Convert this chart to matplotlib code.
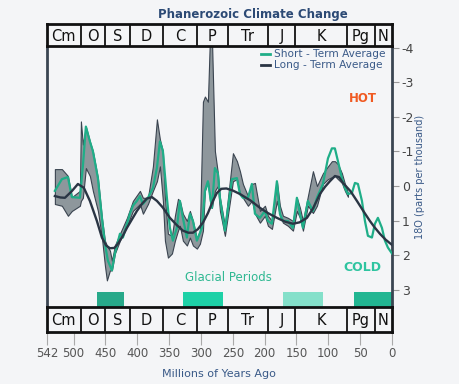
import matplotlib.pyplot as plt
from matplotlib.lines import Line2D

# geologic periods, boundaries in millions of years ago (as drawn)
period_names = ["Cm", "O", "S", "D", "C", "P", "Tr", "J", "K", "Pg", "N"]
period_edges = [542, 489, 451, 412, 360, 306, 258, 195, 152, 71, 27, 0]

# glacial periods (start, end) in Ma
glacial_start = [463, 328, 171, 60]
glacial_end = [421, 266, 108, 0]
glacial_colors = ["#27a98a", "#1ed1a7", "#84e0ca", "#22b692"]

# short-term average (green)
short_age = [529.5, 518.5, 509.0, 502.8, 490.2, 485.5, 480.8, 474.5, 469.8, 461.9,
             455.6, 450.9, 446.2, 439.9, 435.2, 427.3, 422.6, 411.6, 406.9, 400.6,
             395.9, 391.2, 383.3, 375.5, 369.2, 364.5, 359.8, 353.5, 348.8, 344.1,
             337.8, 333.1, 328.4, 322.1, 317.4, 312.6, 306.4, 298.5, 293.8, 289.1,
             282.8, 278.1, 273.4, 270.2, 262.4, 251.4, 243.5, 238.8, 234.1, 226.2,
             220.0, 215.2, 207.4, 199.5, 194.8, 188.5, 180.7, 176.0, 171.2, 163.4,
             155.5, 149.3, 144.5, 139.8, 132.0, 124.1, 117.8, 108.4, 100.5, 94.3,
             89.6, 84.8, 78.6, 73.8, 69.1, 62.8, 58.1, 53.4, 47.1, 42.4,
             37.7, 31.4, 26.7, 22.0, 15.7, 11.0, 6.3, 0.0]
short_val = [0.14, -0.20, -0.26, 0.32, 0.34, -0.57, -1.72, -1.29, -1.01, -0.23,
             0.92, 1.67, 2.16, 2.44, 1.95, 1.38, 1.49, 0.80, 0.57, 0.43,
             0.29, 0.52, 0.34, 0.06, -0.52, -1.29, -1.01, 0.34, 1.21, 1.58,
             1.21, 0.43, 0.92, 1.49, 0.80, 1.01, 1.58, 1.21, 0.14, -0.14,
             0.63, -0.52, -0.37, 0.34, 1.29, -0.20, -0.23, 0.23, 0.34, 0.34,
             -0.06, 0.80, 0.92, 0.72, 1.01, 1.09, -0.14, 0.80, 1.01, 1.01,
             1.21, 0.34, 0.80, 1.21, 0.43, 0.72, 0.34, -0.06, -0.80, -1.09,
             -1.09, -0.72, -0.23, 0.06, 0.23, 0.20, -0.09, -0.06, 0.43, 1.01,
             1.44, 1.49, 1.09, 0.92, 1.21, 1.58, 1.78, 1.95]

# grey spread band
band_age = [529.5, 518.5, 509.0, 502.8, 490.2, 488.6, 485.5, 480.8, 474.5, 469.8,
            461.9, 455.6, 450.9, 447.8, 443.0, 439.9, 435.2, 427.3, 416.3, 406.9,
            395.9, 391.2, 383.3, 375.5, 369.2, 364.5, 359.8, 356.6, 351.9, 345.6,
            340.9, 336.1, 333.1, 328.4, 322.1, 317.4, 312.6, 306.4, 301.7, 296.9,
            293.8, 289.1, 285.9, 282.8, 278.1, 273.4, 270.2, 262.4, 249.8, 243.5,
            238.8, 234.1, 226.2, 220.0, 215.2, 207.4, 199.5, 194.8, 188.5, 180.7,
            176.0, 171.2, 163.4, 155.5, 149.3, 144.5, 139.8, 132.0, 124.1, 117.8,
            108.4, 100.5, 94.3, 89.6, 84.8, 78.6, 73.8, 69.1]
band_top = [-0.49, -0.49, -0.29, 0.32, 0.14, -1.87, -1.20, -1.72, -1.29, -1.01,
            -0.23, 0.92, 1.58, 1.72, 1.87, 2.16, 1.72, 1.38, 0.92, 0.43,
            0.14, 0.34, 0.34, -0.57, -1.93, -1.35, -1.01, 0.34, 1.38, 1.44,
            0.86, 0.37, 0.43, 0.80, 1.01, 0.72, 1.01, 1.52, 1.29, -2.44,
            -2.59, -2.44, -4.3, -4.3, -1.01, -0.37, 0.34, 1.15, -0.95, -0.72,
            -0.43, -0.06, 0.29, -0.06, -0.09, 0.72, 0.57, 0.86, 1.01, -0.14,
            0.57, 0.86, 0.92, 1.01, 0.34, 0.63, 1.01, 0.29, -0.43, 0.00,
            -0.37, -0.57, -0.72, -0.72, -0.63, -0.37, -0.06, 0.20]
band_bot = [0.52, 0.57, 0.86, 0.72, 0.57, 0.43, 0.34, -0.52, -0.29, 0.14,
            0.72, 1.49, 2.30, 2.73, 2.44, 2.44, 1.95, 1.58, 1.15, 0.72,
            0.52, 0.80, 0.52, 0.14, -0.14, -0.57, 0.43, 1.58, 2.07, 1.95,
            1.58, 1.29, 1.15, 1.58, 1.72, 1.49, 1.72, 1.81, 1.67, 1.29,
            0.14, -0.14, 0.43, 0.63, 0.14, 0.00, 0.72, 1.44, -0.14, -0.20,
            0.23, 0.34, 0.57, 0.43, 0.80, 1.06, 0.86, 1.15, 1.24, 0.43,
            0.86, 1.06, 1.15, 1.29, 0.72, 0.92, 1.29, 0.57, 0.78, 0.57,
            -0.06, -0.20, -0.26, -0.29, -0.20, -0.09, 0.14, 0.31]

# long-term average (dark)
long_age = [529.5, 521, 513.7, 503, 493.3, 484, 474.5, 463.5, 455.6, 449,
            443, 436, 430.5, 423, 416.3, 400.6, 392, 384.9, 377, 369.2,
            360, 348.8, 338, 328.4, 320, 312.6, 305, 296.9, 289, 281.2,
            275, 268, 260, 250, 238.8, 222, 207.4, 195, 180.7, 168,
            155.5, 145, 133.5, 124, 113.1, 105, 97.4, 89.5, 83, 76.9,
            65, 55.0, 45, 34.6, 27, 18.9, 10, 0.0]
long_val = [0.29, 0.33, 0.34, 0.15, -0.06, 0.05, 0.43, 1.01, 1.49, 1.72,
            1.80, 1.79, 1.67, 1.45, 1.21, 0.72, 0.50, 0.36, 0.32, 0.43,
            0.62, 0.92, 1.13, 1.29, 1.35, 1.35, 1.25, 1.06, 0.78, 0.43,
            0.20, 0.08, 0.07, 0.13, 0.23, 0.42, 0.63, 0.78, 0.92, 1.03,
            1.09, 1.05, 0.92, 0.65, 0.23, 0.02, -0.14, -0.29, -0.26, -0.09,
            0.15, 0.43, 0.72, 1.01, 1.20, 1.38, 1.55, 1.70]

y_ticks = [-4, -3, -2, -1, 0, 1, 2, 3]
x_ticks = [542, 500, 450, 400, 350, 300, 250, 200, 150, 100, 50, 0]

bg = "#f4f5f7"
blue = "#3a5a88"
green = "#1fae88"
dark = "#2a3544"

fig = plt.figure(figsize=(4.6, 3.84), dpi=100, facecolor=bg)
ax = fig.add_axes([0.102, 0.2005, 0.75, 0.6795], facecolor=bg)
ax_top = fig.add_axes([0.102, 0.880, 0.75, 0.057], facecolor=bg)
ax_bot = fig.add_axes([0.102, 0.135, 0.75, 0.0655], facecolor=bg)

# main panel
ax.fill_between(band_age, band_top, band_bot, facecolor="#8e979c",
                edgecolor="#3a4450", linewidth=0.8, zorder=2)
ax.plot(short_age, short_val, color=green, lw=1.6, zorder=3)
ax.plot(long_age, long_val, color=dark, lw=1.7, zorder=4)
for s, e, c in zip(glacial_start, glacial_end, glacial_colors):
    ax.fill_between([s, e], 3.07, 3.6, color=c, lw=0, zorder=1)

ax.set_xlim(542, 0)
ax.set_ylim(3.5, -4.05)
ax.set_xticks([])
ax.yaxis.tick_right()
ax.set_yticks(y_ticks)
ax.set_yticklabels([str(t) for t in y_ticks])
ax.tick_params(axis="y", colors="#999999", labelcolor="#444444", labelsize=9,
               length=5, width=0.8, pad=2)
for side in ["left", "right"]:
    ax.spines[side].set_color("#3a4552")
    ax.spines[side].set_linewidth(2)
for side in ["top", "bottom"]:
    ax.spines[side].set_visible(False)

ax.yaxis.set_label_position("right")
ax.set_ylabel("18O (parts per thousand)", color=blue, fontsize=7, labelpad=1,
              rotation=90)

handles = [Line2D([], [], color=green, lw=2), Line2D([], [], color=dark, lw=2)]
leg = ax.legend(handles, ["Short - Term Average", "Long - Term Average"],
                loc="upper right", bbox_to_anchor=(0.99, 1.0), frameon=False,
                fontsize=7.6, handlelength=0.8, handletextpad=0.4,
                labelspacing=0.1, borderaxespad=0.2, borderpad=0.1)
for t in leg.get_texts():
    t.set_color(blue)

ax.text(0.955, 0.80, "HOT", transform=ax.transAxes, color="#f05a22",
        fontsize=8.5, fontweight="bold", ha="right", va="center")
ax.text(0.97, 0.15, "COLD", transform=ax.transAxes, color="#2ec4a0",
        fontsize=9, fontweight="bold", ha="right", va="center")
ax.text(0.525, 0.115, "Glacial Periods", transform=ax.transAxes, color="#2fb892",
        fontsize=8.5, ha="center", va="center")

# period bars
for pax in [ax_top, ax_bot]:
    pax.set_xlim(542, 0)
    pax.set_ylim(0, 1)
    pax.set_yticks([])
    for sp in pax.spines.values():
        sp.set_color("#111111")
        sp.set_linewidth(2)
    for edge in period_edges[1:-1]:
        pax.axvline(edge, color="#111111", lw=1.3)
    for name, a, b in zip(period_names, period_edges[:-1], period_edges[1:]):
        pax.text((a + b) / 2, 0.45, name, ha="center", va="center",
                 fontsize=10.5, color="#111111")

ax_top.set_xticks([])
ax_bot.set_xticks(x_ticks)
ax_bot.set_xticklabels([str(t) for t in x_ticks])
ax_bot.tick_params(axis="x", colors="#aaaaaa", labelcolor="#555555",
                   labelsize=8.5, length=9, width=0.8, pad=2)
ax_bot.set_xlabel("Millions of Years Ago", color=blue, fontsize=8, labelpad=6)

fig.text(0.55, 0.963, "Phanerozoic Climate Change", ha="center", va="center",
         color="#2c4a75", fontsize=8.5, fontweight="bold")

fig.savefig("out.png", dpi=100, facecolor=bg)
